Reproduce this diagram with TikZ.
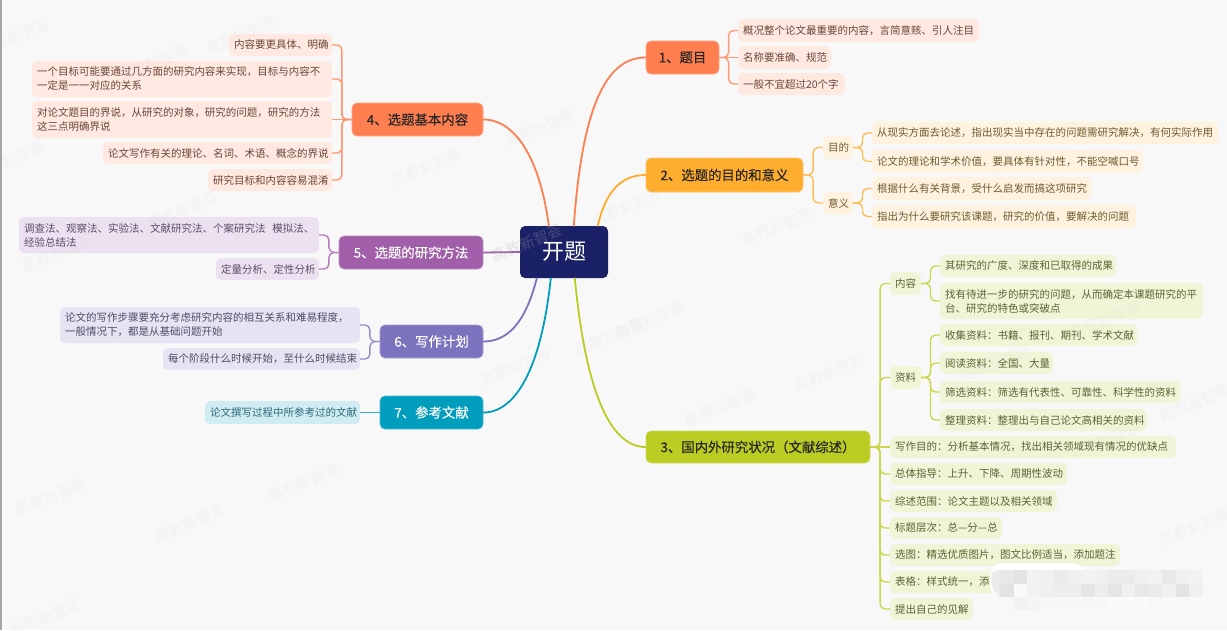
\documentclass[tikz,border=0pt]{standalone}
\usepackage{fontspec}
\setmainfont{Noto Sans CJK SC}
\newfontfamily\ttlfont[FakeBold=0.15]{Noto Sans CJK SC}
\usetikzlibrary{calc}
\definecolor{pagebg}{HTML}{F8F8F8}
\definecolor{cOr}{HTML}{FF7F50}\definecolor{cOrL}{HTML}{FFE9E1}\definecolor{cOrT}{HTML}{6B4538}
\definecolor{cYe}{HTML}{FFAD2E}\definecolor{cYeL}{HTML}{FFF2DE}\definecolor{cYeT}{HTML}{6E5A32}
\definecolor{cGr}{HTML}{BBCC22}\definecolor{cGrL}{HTML}{F1F5D8}\definecolor{cGrT}{HTML}{5C6232}
\definecolor{cPu}{HTML}{A05FA8}\definecolor{cPuL}{HTML}{ECE1F0}\definecolor{cPuT}{HTML}{5F4B66}
\definecolor{cVi}{HTML}{7B73BE}\definecolor{cViL}{HTML}{E6E4F3}\definecolor{cViT}{HTML}{4F4C66}
\definecolor{cTe}{HTML}{009DBD}\definecolor{cTeL}{HTML}{CFECF2}\definecolor{cTeT}{HTML}{2F6A78}
\definecolor{cRoot}{HTML}{1A2166}
\tikzset{
  boxbase/.style={rounded corners=5pt,inner sep=0pt},
  leafsty/.style 2 args={boxbase,align=left,inner xsep=5pt,text width=\www pt-10pt,fill=#1,text=#2,font=\fontsize{10.5}{14}\selectfont},
  titlesty/.style 2 args={boxbase,align=center,fill=#1,draw=#1!70!white,line width=.7pt,text=#2,font=\ttlfont\fontsize{13.4}{16}\selectfont},
  lOr/.style={leafsty={cOrL}{cOrT}},lYe/.style={leafsty={cYeL}{cYeT}},lGr/.style={leafsty={cGrL}{cGrT}},
  lPu/.style={leafsty={cPuL}{cPuT}},lVi/.style={leafsty={cViL}{cViT}},lTe/.style={leafsty={cTeL}{cTeT}},
  branch/.style={line width=1.8pt,line cap=round},
  twig/.style={line width=1.4pt,rounded corners=5pt},
  wmark/.style={text=gray!65,opacity=.08,rotate=22,font=\fontsize{15}{15}\selectfont,inner sep=0pt}
}
\newcommand\bx[7]{%
  \pgfmathsetmacro\cxx{(#3+#5)/2}\pgfmathsetmacro\cyy{(#4+#6)/2}%
  \pgfmathsetmacro\www{#5-#3}\pgfmathsetmacro\hhh{#6-#4}%
  \node[#2,minimum width=\www pt,minimum height=\hhh pt] (#1) at (\cxx,\cyy) {#7};}
\newcommand\lkr[3]{\draw[twig,#1!80!white] (#2.east) -- ($(#2.east)!0.5!(#3.west |- #2.east)$) |- (#3.west);}
\newcommand\lkl[3]{\draw[twig,#1!80!white] (#2.west) -- ($(#2.west)!0.5!(#3.east |- #2.west)$) |- (#3.east);}
\newcommand\lksr[3]{\draw[twig,#1!80!white] (#2.east) -- (#3.west);}
\newcommand\lksl[3]{\draw[twig,#1!80!white] (#2.west) -- (#3.east);}
\begin{document}
\begin{tikzpicture}[x=1pt,y=-1pt]
\useasboundingbox (0,0) rectangle (1227,630);
\fill[pagebg] (0,0) rectangle (1227,630);
\fill[black!35] (0,0) rectangle (2,630);

% root
\bx{root}{boxbase,fill=cRoot,text=white,font=\fontsize{22}{26}\selectfont}{520}{226}{608}{278}{开题}

% main branches
\bx{n1}{titlesty={cOr}{black!85}}{646}{41}{719}{74}{1、题目}
\bx{n2}{titlesty={cYe}{black!85}}{646}{158}{803}{192}{2、选题的目的和意义}
\bx{n3}{titlesty={cGr}{black!85}}{646}{431}{870}{463}{3、国内外研究状况（文献综述）}
\bx{n4}{titlesty={cOr}{black!85}}{352}{103}{483}{136}{4、选题基本内容}
\bx{n5}{titlesty={cPu}{white}}{339}{236}{483}{269}{5、选题的研究方法}
\bx{n6}{titlesty={cVi}{white}}{380}{325}{483}{358}{6、写作计划}
\bx{n7}{titlesty={cTe}{white}}{380}{396}{483}{429}{7、参考文献}

% branch 1
\bx{a1}{lOr}{738}{19}{979}{42}{概况整个论文最重要的内容，言简意赅、引人注目}
\bx{a2}{lOr}{738}{46}{831}{69}{名称要准确、规范}
\bx{a3}{lOr}{738}{73}{845}{95}{一般不宜超过20个字}

% branch 2
\bx{b1}{lYe}{823}{136}{853}{159}{目的}
\bx{b2}{lYe}{823}{192}{853}{214}{意义}
\bx{b11}{lYe}{872}{122}{1218}{144}{从现实方面去论述，指出现实当中存在的问题需研究解决，有何实际作用}
\bx{b12}{lYe}{872}{150}{1143}{173}{论文的理论和学术价值，要具体有针对性，不能空喊口号}
\bx{b21}{lYe}{872}{177}{1091}{200}{根据什么有关背景，受什么启发而搞这项研究}
\bx{b22}{lYe}{872}{205}{1136}{228}{指出为什么要研究该课题，研究的价值，要解决的问题}

% branch 3
\bx{c1}{lGr}{890}{272}{921}{295}{内容}
\bx{c2}{lGr}{890}{366}{921}{389}{资料}
\bx{c11}{lGr}{940}{255}{1116}{277}{其研究的广度、深度和已取得的成果}
\bx{c12}{lGr}{940}{283}{1203}{319}{找有待进一步的研究的问题，从而确定本课题研究的平\\台、研究的特色或突破点}
\bx{c21}{lGr}{940}{324}{1137}{346}{收集资料：书籍、报刊、期刊、学术文献}
\bx{c22}{lGr}{940}{352}{1053}{374}{阅读资料：全国、大量}
\bx{c23}{lGr}{940}{381}{1180}{403}{筛选资料：筛选有代表性、可靠性、科学性的资料}
\bx{c24}{lGr}{940}{409}{1147}{431}{整理资料：整理出与自己论文高相关的资料}
\bx{c3}{lGr}{890}{436}{1176}{458}{写作目的：分析基本情况，找出相关领域现有情况的优缺点}
\bx{c4}{lGr}{890}{463}{1067}{485}{总体指导：上升、下降、周期性波动}
\bx{c5}{lGr}{890}{490}{1057}{512}{综述范围：论文主题以及相关领域}
\bx{c6}{lGr}{890}{517}{1002}{539}{\mbox{标题层次：总—分—总}}
\bx{c7}{lGr}{890}{544}{1120}{566}{选图：精选优质图片，图文比例适当，添加题注}
\bx{c8}{lGr}{890}{571}{1087}{593}{表格：样式统一，添}
\bx{c9}{lGr}{890}{598}{973}{620}{提出自己的见解}

% branch 4
\bx{d1}{lOr}{229}{34}{332}{56}{内容要更具体、明确}
\bx{d2}{lOr}{32}{61}{332}{97}{一个目标可能要通过几方面的研究内容来实现，目标与内容不\\一定是一一对应的关系}
\bx{d3}{lOr}{32}{101}{332}{138}{对论文题目的界说，从研究的对象，研究的问题，研究的方法\\这三点明确界说}
\bx{d4}{lOr}{103}{142}{332}{164}{论文写作有关的理论、名词、术语、概念的界说}
\bx{d5}{lOr}{208}{169}{332}{191}{研究目标和内容容易混淆}

% branch 5
\bx{e1}{lPu}{19}{217}{319}{253}{\mbox{调查法、观察法、实验法、文献研究法、个案研究法 \ 模拟法、}\\经验总结法}
\bx{e2}{lPu}{216}{258}{319}{280}{定量分析、定性分析}

% branch 6
\bx{f1}{lVi}{60}{307}{360}{343}{论文的写作步骤要充分考虑研究内容的相互关系和难易程度，\\一般情况下，都是从基础问题开始}
\bx{f2}{lVi}{163}{348}{360}{370}{每个阶段什么时候开始，至什么时候结束}

% branch 7
\bx{g1}{lTe}{205}{401}{360}{424}{论文撰写过程中所参考过的文献}

% anchors where the branches leave the root
\coordinate (r4) at ($(root.north west)+(29,0)$);
\coordinate (r1) at ($(root.north west)+(54,0)$);
\coordinate (r2) at ($(root.north west)+(78,0)$);
\coordinate (r6) at ($(root.south west)+(17,0)$);
\coordinate (r7) at ($(root.south west)+(31,0)$);
\coordinate (r3) at ($(root.south west)+(55,0)$);

\draw[branch,cOr] (r1) .. controls (581,125) and (600,57) .. (n1.west);
\draw[branch,cYe] (r2) .. controls (606,190) and (622,175) .. (n2.west);
\draw[branch,cGr] (r3) .. controls (585,385) and (608,447) .. (n3.west);
\draw[branch,cOr] (r4) .. controls (541,165) and (518,119.5) .. (n4.east);
\draw[branch,cPu] (root.west) -- (n5.east);
\draw[branch,cVi] (r6) .. controls (525,325) and (506,341.5) .. (n6.east);
\draw[branch,cTe] (r7) .. controls (541,370) and (515,412.5) .. (n7.east);

\lkr{cOr}{n1}{a1}\lksr{cOr}{n1}{a2}\lkr{cOr}{n1}{a3}
\lkr{cYe}{n2}{b1}\lkr{cYe}{n2}{b2}
\lkr{cYe}{b1}{b11}\lkr{cYe}{b1}{b12}\lkr{cYe}{b2}{b21}\lkr{cYe}{b2}{b22}
\foreach \k in {c1,c2,c4,c5,c6,c7,c8,c9}{\lkr{cGr}{n3}{\k}}
\lksr{cGr}{n3}{c3}
\lkr{cGr}{c1}{c11}\lkr{cGr}{c1}{c12}
\foreach \k in {c21,c22,c23,c24}{\lkr{cGr}{c2}{\k}}
\foreach \k in {d1,d2,d4,d5}{\lkl{cOr}{n4}{\k}}
\lksl{cOr}{n4}{d3}
\lkl{cPu}{n5}{e1}\lkl{cPu}{n5}{e2}
\lkl{cVi}{n6}{f1}\lkl{cVi}{n6}{f2}
\lksl{cTe}{n7}{g1}

% watermarks
\foreach \wx/\wy in {15/37,242/35,153/63,427/167,540/128,183/210,57/253,10/160,627/207,
  516/367,610/337,650/320,830/373,720/407,1195/403,1195/527,777/227,51/497,190/523,304/483,45/617,
  1105/320,995/363,1105/440}{
  \node[wmark] at (\wx,\wy) {高教新智荟};
}
\node[wmark,opacity=.28,text=gray!60] at (527,243) {高教新智荟};

% pixelated smudge
\fill[white,rounded corners=12pt] (990,563) rectangle (1085,597);
\fill[black!8] (992,572) .. controls (990,582) and (992,592) .. (1000,597) -- (1000,570) -- cycle;
\foreach \i/\ga/\gb in {0/9/11,1/11/2,2/5/5,3/6/6,4/8/7,5/6/7,6/5/10,7/6/7,8/8/10,9/8/6,10/6/9,11/5/8,12/9/6,13/6/11,14/5/6}{
  \fill[black!\ga] ({1000+\i*13.5},570) rectangle ++(13.6,14);
  \fill[black!\gb] ({1000+\i*13.5},584) rectangle ++(13.6,13);
}
\foreach \i/\ga in {1/5,2/4,3/3,4/3,5/3,6/3,7/3,8/2,9/2,10/2}{
  \fill[black!\ga] ({1000+\i*13.5},597) rectangle ++(13.6,13);
}
\end{tikzpicture}
\end{document}
